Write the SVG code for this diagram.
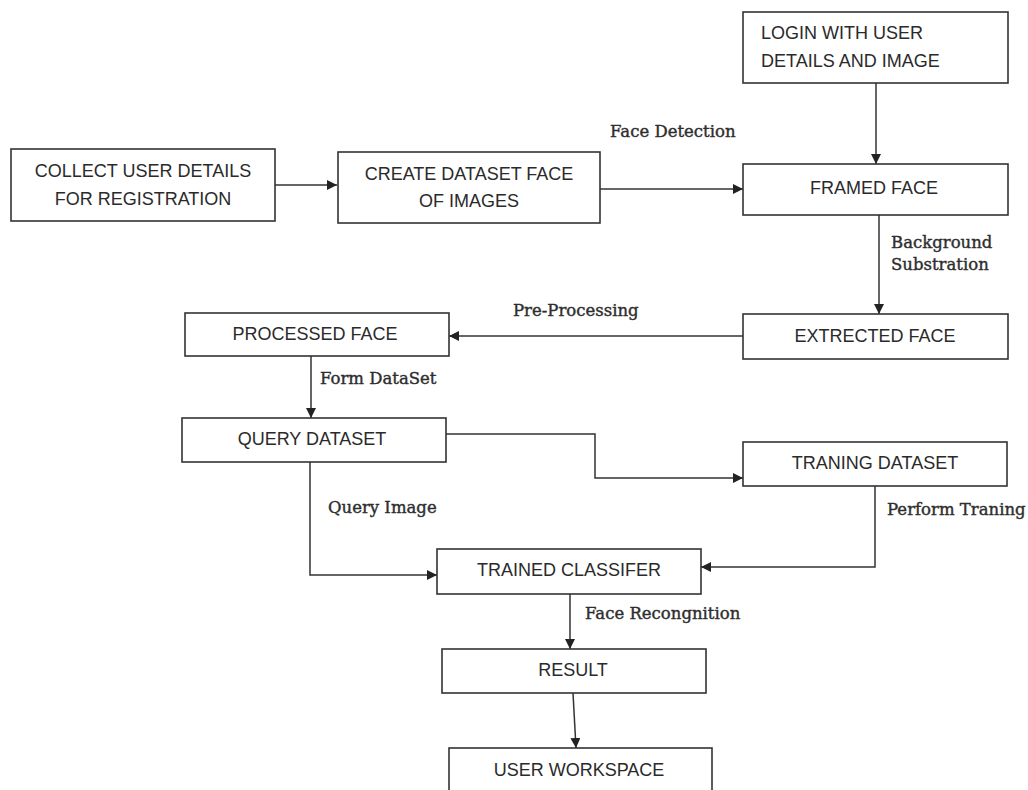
<svg xmlns="http://www.w3.org/2000/svg" width="1028" height="790" viewBox="0 0 1028 790">
<defs>
<marker id="ah" viewBox="0 0 10 10" refX="10" refY="5" markerWidth="10" markerHeight="10" markerUnits="userSpaceOnUse" orient="auto">
<path d="M0,0 L10,5 L0,10 z" fill="#222"/>
</marker>
<style>
.box{fill:#fff;stroke:#333;stroke-width:1.6}
.t{font-family:"Liberation Sans",Arial,sans-serif;font-size:18px;fill:#2a2a2a;text-anchor:middle;dominant-baseline:central}
.tl{text-anchor:start}
.lab{font-family:"DejaVu Serif","Liberation Serif",serif;font-size:16.5px;fill:#2e2e2e;stroke:#2e2e2e;stroke-width:0.4;dominant-baseline:central}
.c{fill:none;stroke:#333;stroke-width:1.5}
</style>
</defs>
<rect width="1028" height="790" fill="#fff"/>

<g id="connectors">
<line class="c" x1="275" y1="185" x2="337" y2="185" marker-end="url(#ah)"/>
<line class="c" x1="600" y1="189" x2="743" y2="189" marker-end="url(#ah)"/>
<line class="c" x1="876" y1="83" x2="876" y2="164" marker-end="url(#ah)"/>
<line class="c" x1="879" y1="215" x2="879" y2="314" marker-end="url(#ah)"/>
<line class="c" x1="743" y1="336" x2="449" y2="336" marker-end="url(#ah)"/>
<line class="c" x1="311" y1="356" x2="311" y2="418" marker-end="url(#ah)"/>
<polyline class="c" points="446,434 595,434 595,478 743,478" marker-end="url(#ah)"/>
<polyline class="c" points="310,462 310,575 437,575" marker-end="url(#ah)"/>
<polyline class="c" points="875,486 875,567 701,567" marker-end="url(#ah)"/>
<line class="c" x1="570" y1="594" x2="570" y2="649" marker-end="url(#ah)"/>
<line class="c" x1="573" y1="693" x2="576" y2="748" marker-end="url(#ah)"/>
<text class="lab" x="610" y="131">Face Detection</text>
<text class="lab" x="891" y="242">Background</text>
<text class="lab" x="891" y="264">Substration</text>
<text class="lab" x="513" y="310">Pre-Processing</text>
<text class="lab" x="320" y="378">Form DataSet</text>
<text class="lab" x="328" y="507">Query Image</text>
<text class="lab" x="887" y="509">Perform Traning</text>
<text class="lab" x="585" y="613">Face Recongnition</text>
</g>

<g id="n-collect">
<rect class="box" x="11" y="149" width="264" height="72"/>
<text class="t" x="143" y="171">COLLECT USER DETAILS</text>
<text class="t" x="143" y="199">FOR REGISTRATION</text>
</g>
<g id="n-create">
<rect class="box" x="338" y="152" width="262" height="71"/>
<text class="t" x="469" y="174">CREATE DATASET FACE</text>
<text class="t" x="469" y="201">OF IMAGES</text>
</g>
<g id="n-login">
<rect class="box" x="743" y="12" width="265" height="71"/>
<text class="t tl" x="761" y="33">LOGIN WITH USER</text>
<text class="t tl" x="761" y="61">DETAILS AND IMAGE</text>
</g>
<g id="n-framed">
<rect class="box" x="743" y="164" width="265" height="51"/>
<text class="t" x="874" y="188">FRAMED FACE</text>
</g>
<g id="n-extrected">
<rect class="box" x="743" y="314" width="265" height="45"/>
<text class="t" x="875" y="336">EXTRECTED FACE</text>
</g>
<g id="n-processed">
<rect class="box" x="185" y="313" width="264" height="43"/>
<text class="t" x="315" y="334">PROCESSED FACE</text>
</g>
<g id="n-query">
<rect class="box" x="182" y="418" width="264" height="44"/>
<text class="t" x="312" y="439">QUERY DATASET</text>
</g>
<g id="n-training">
<rect class="box" x="743" y="442" width="264" height="44"/>
<text class="t" x="875" y="463">TRANING DATASET</text>
</g>
<g id="n-trained">
<rect class="box" x="437" y="549" width="264" height="45"/>
<text class="t" x="569" y="570">TRAINED CLASSIFER</text>
</g>
<g id="n-result">
<rect class="box" x="442" y="649" width="264" height="44"/>
<text class="t" x="573" y="670">RESULT</text>
</g>
<g id="n-workspace">
<rect class="box" x="449" y="748" width="263" height="60"/>
<text class="t" x="579" y="770">USER WORKSPACE</text>
</g>
</svg>
